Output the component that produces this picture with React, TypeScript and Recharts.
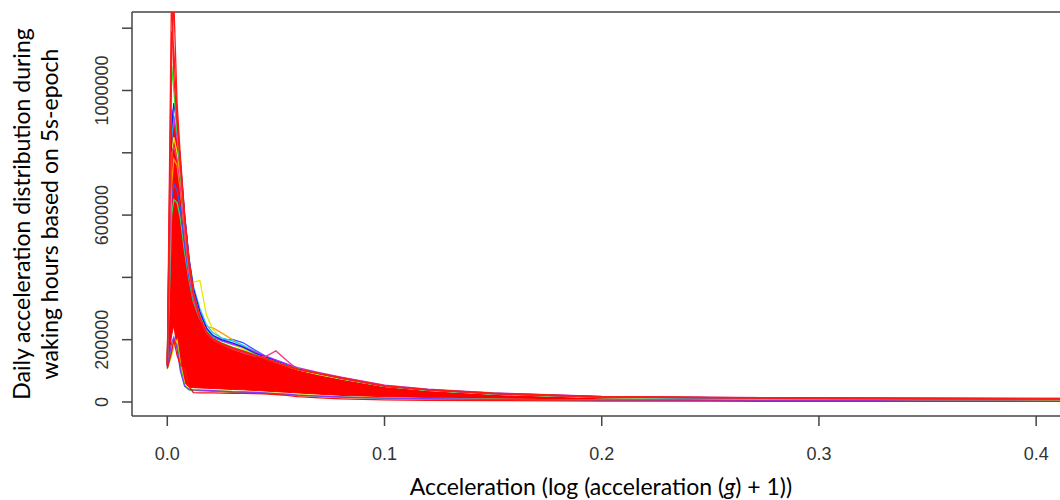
import { ComposedChart, Line, Area, XAxis, YAxis, ReferenceLine } from 'recharts'

// acceleration bins (log(g + 1))
const accel = [0, 0.002, 0.003, 0.0045, 0.006, 0.008, 0.01, 0.012, 0.015, 0.018, 0.021, 0.025, 0.03, 0.035, 0.04, 0.045, 0.05, 0.055, 0.06, 0.07, 0.08, 0.1, 0.12, 0.15, 0.2, 0.25, 0.3, 0.35, 0.42]

// the dense red mass of curves, as a low/high envelope
const bandHigh = [130000, 920000, 900000, 830000, 720000, 560000, 430000, 340000, 265000, 220000, 200000, 185000, 172000, 162000, 150000, 140000, 128000, 116000, 106000, 92000, 78000, 52000, 40000, 28000, 17000, 15000, 12000, 12000, 11000]
const bandLow = [110000, 215000, 245000, 175000, 110000, 62000, 48000, 46000, 45000, 44000, 43000, 42000, 40000, 39000, 37000, 35000, 33000, 31000, 29000, 25000, 21000, 17000, 14000, 11000, 8000, 7000, 6000, 6000, 5000]

// individual curves that stick out of the mass
const greenPeak = [120000, 1080000, 1000000, 870000, 740000, 575000, 445000, 352000, 275000, 228000, 205000, 190000, 176000, 165000, 152000, 141000, 129000, 117000, 107000, 92000, 78000, 52000, 40000, 28000, 16000, 14000, 11000, 11000, 10000]
const bluePeak = [115000, 880000, 960000, 890000, 775000, 600000, 462000, 365000, 290000, 238000, 214000, 200000, 190000, 176000, 158000, 145000, 131000, 118000, 107000, 91000, 77000, 52000, 39000, 27000, 16000, 13000, 11000, 10000, 9000]
const cyanPeak = [118000, 840000, 920000, 860000, 760000, 595000, 458000, 372000, 300000, 248000, 222000, 206000, 196000, 182000, 163000, 147000, 132000, 120000, 108000, 91000, 76000, 51000, 38000, 26000, 15000, 12000, 10000, 9000, 8000]
const magentaPeak = [120000, 940000, 910000, 850000, 752000, 588000, 452000, 360000, 284000, 236000, 212000, 197000, 186000, 176000, 162000, 148000, 135000, 122000, 110000, 94000, 80000, 54000, 41000, 29000, 18000, 15000, 13000, 12000, 11000]
const yellowBump = [125000, 800000, 850000, 800000, 700000, 560000, 450000, 385000, 390000, 280000, 232000, 202000, 186000, 170000, 152000, 140000, 127000, 115000, 104000, 88000, 74000, 50000, 37000, 25000, 14000, 11000, 9000, 8000, 7000]
const orangeBump = [120000, 700000, 780000, 760000, 680000, 540000, 420000, 340000, 278000, 242000, 238000, 222000, 200000, 178000, 158000, 143000, 130000, 118000, 106000, 90000, 76000, 51000, 38000, 26000, 15000, 12000, 10000, 9000, 8000]
const blueBump = [115000, 650000, 700000, 680000, 620000, 500000, 400000, 330000, 270000, 226000, 206000, 199000, 201000, 190000, 168000, 148000, 131000, 118000, 106000, 90000, 75000, 50000, 37000, 25000, 14000, 11000, 9000, 8000, 7000]
const greenMid = [118000, 600000, 650000, 640000, 590000, 480000, 392000, 322000, 266000, 232000, 212000, 196000, 184000, 172000, 155000, 141000, 128000, 116000, 104000, 88000, 74000, 50000, 37000, 25000, 14000, 11000, 9000, 8000, 7000]
const pinkSpike = [120000, 800000, 820000, 780000, 690000, 540000, 420000, 335000, 268000, 222000, 200000, 186000, 170000, 158000, 147000, 145000, 164000, 133000, 104000, 92000, 78000, 53000, 40000, 28000, 17000, 14000, 12000, 11000, 10000]
const yellowLow = [105000, 150000, 175000, 198000, 125000, 58000, 42000, 40000, 39000, 38000, 37000, 36000, 34000, 33000, 32000, 30000, 28000, 26000, 24000, 20000, 17000, 13000, 11000, 9000, 6000, 5000, 4000, 4000, 3500]
const greenLow = [108000, 170000, 195000, 185000, 115000, 52000, 38000, 37000, 36000, 35000, 34000, 33000, 31000, 30000, 29000, 27000, 25000, 23000, 21000, 18000, 15000, 12000, 10000, 8000, 5500, 4500, 4000, 3500, 3000]
const purpleLow = [110000, 190000, 208000, 172000, 100000, 50000, 41000, 39000, 38000, 37000, 36000, 35000, 33000, 32000, 31000, 29000, 27000, 25000, 22000, 19000, 16000, 12500, 10500, 8500, 6000, 5000, 4500, 4000, 3500]
const redLow = [108000, 160000, 200000, 150000, 120000, 105000, 50000, 30000, 29500, 29000, 29000, 28500, 28000, 27500, 27000, 26000, 24000, 21000, 17000, 13000, 10000, 7000, 5500, 4500, 3000, 2500, 2000, 2000, 2000]
const redTallA = [125000, 1350000, 1050000, 900000, 770000, 590000, 450000, 350000, 272000, 225000, 203000, 188000, 174000, 163000, 151000, 140000, 128000, 116000, 106000, 92000, 78000, 52000, 40000, 28000, 17000, 15000, 12000, 12000, 11000]
const redTallB = [120000, 1100000, 1290000, 960000, 790000, 600000, 455000, 352000, 270000, 224000, 202000, 187000, 173000, 162000, 150000, 139000, 127000, 115000, 105000, 91000, 77000, 51000, 39000, 27000, 16000, 14000, 12000, 11000, 10000]
const redTallC = [118000, 1190000, 1130000, 920000, 760000, 585000, 445000, 348000, 268000, 222000, 201000, 186000, 172000, 161000, 149000, 139000, 127000, 115000, 105000, 91000, 77000, 51000, 39000, 27000, 16000, 14000, 12000, 11000, 10000]

const xTicks = [0, 0.1, 0.2, 0.3, 0.4]
const yTicks = [0, 200000, 400000, 600000, 800000, 1000000, 1200000]
const yLabelled = [0, 200000, 600000, 1000000]

const under = [
  { key: 'yellowLow', values: yellowLow, color: '#e0e000' },
  { key: 'greenLow', values: greenLow, color: '#33cc33' },
  { key: 'purpleLow', values: purpleLow, color: '#7a3cff' },
  { key: 'greenMid', values: greenMid, color: '#33dd55' },
  { key: 'blueBump', values: blueBump, color: '#3355ff' },
  { key: 'orangeBump', values: orangeBump, color: '#ff9a00' },
  { key: 'yellowBump', values: yellowBump, color: '#e8e800' },
  { key: 'cyanPeak', values: cyanPeak, color: '#22ccee' },
  { key: 'magentaPeak', values: magentaPeak, color: '#cc22ff' },
  { key: 'bluePeak', values: bluePeak, color: '#1a1aff' },
  { key: 'greenPeak', values: greenPeak, color: '#22ee22' },
]
const over = [
  { key: 'pinkSpike', values: pinkSpike, color: '#ee3c82' },
  { key: 'redLow', values: redLow, color: '#ff1010' },
  { key: 'redTallA', values: redTallA, color: '#ff1a1a' },
  { key: 'redTallB', values: redTallB, color: '#ff1a1a' },
  { key: 'redTallC', values: redTallC, color: '#ff1a1a' },
]

const rows = accel.map((x, i) => {
  const row: Record<string, any> = { x, band: [bandLow[i], bandHigh[i]] }
  for (const s of [...under, ...over]) row[s.key] = s.values[i]
  return row
})

const tickFont = "'Liberation Sans', Arial, sans-serif"
const titleFont = "Lato, 'Open Sans', sans-serif"

function YTick({ y, payload }: any) {
  if (!yLabelled.includes(payload.value)) return <g />
  return (
    <text x={108} y={y} transform={`rotate(-90 108 ${y})`} textAnchor="middle" fontSize={18} fill="#333" fontFamily={tickFont}>
      {payload.value}
    </text>
  )
}

function XTick({ x, payload }: any) {
  return (
    <text x={x} y={460} textAnchor="middle" fontSize={18} fill="#333" fontFamily={tickFont}>
      {payload.value.toFixed(1)}
    </text>
  )
}

export default function App() {
  return (
    <div style={{ position: 'absolute', left: 0, top: 0, width: 1060, height: 500, overflow: 'hidden', background: '#fff' }}>
      <ComposedChart width={1070} height={500} data={rows} margin={{ top: 12, right: 8, bottom: 0, left: 0 }}>
        <XAxis dataKey="x" type="number" domain={[-0.01625, 0.4119]} allowDataOverflow ticks={xTicks} interval={0}
          height={84} tickSize={10} tick={<XTick />} axisLine={{ stroke: '#444', strokeWidth: 1.5 }} tickLine={{ stroke: '#444', strokeWidth: 1.5 }} />
        <YAxis type="number" domain={[-45000, 1252000]} allowDataOverflow ticks={yTicks} interval={0}
          width={132} tickSize={10} tick={<YTick />} axisLine={{ stroke: '#444', strokeWidth: 1.5 }} tickLine={{ stroke: '#444', strokeWidth: 1.5 }} />
        <ReferenceLine y={1252000} stroke="#444" strokeWidth={1.5} />
        {under.map(s => (
          <Line key={s.key} dataKey={s.key} type="linear" stroke={s.color} strokeWidth={1.3} dot={false} isAnimationActive={false} />
        ))}
        <Area dataKey="band" type="linear" stroke="#ff0000" strokeWidth={1} fill="#ff0000" fillOpacity={1} isAnimationActive={false} />
        {over.map(s => (
          <Line key={s.key} dataKey={s.key} type="linear" stroke={s.color} strokeWidth={1.3} dot={false} isAnimationActive={false} />
        ))}
      </ComposedChart>
      <svg width={1060} height={500} style={{ position: 'absolute', left: 0, top: 0, pointerEvents: 'none' }}>
        <text x={30} y={214} transform="rotate(-90 30 214)" textAnchor="middle" fontSize={23} fontFamily={titleFont} fill="#000">
          Daily acceleration distribution during
        </text>
        <text x={58} y={214} transform="rotate(-90 58 214)" textAnchor="middle" fontSize={23} fontFamily={titleFont} fill="#000">
          waking hours based on 5s-epoch
        </text>
        <text x={601} y={495} textAnchor="middle" fontSize={23} fontFamily={titleFont} fill="#000">
          Acceleration (log (acceleration (<tspan fontStyle="italic">g</tspan>) + 1))
        </text>
      </svg>
    </div>
  )
}
